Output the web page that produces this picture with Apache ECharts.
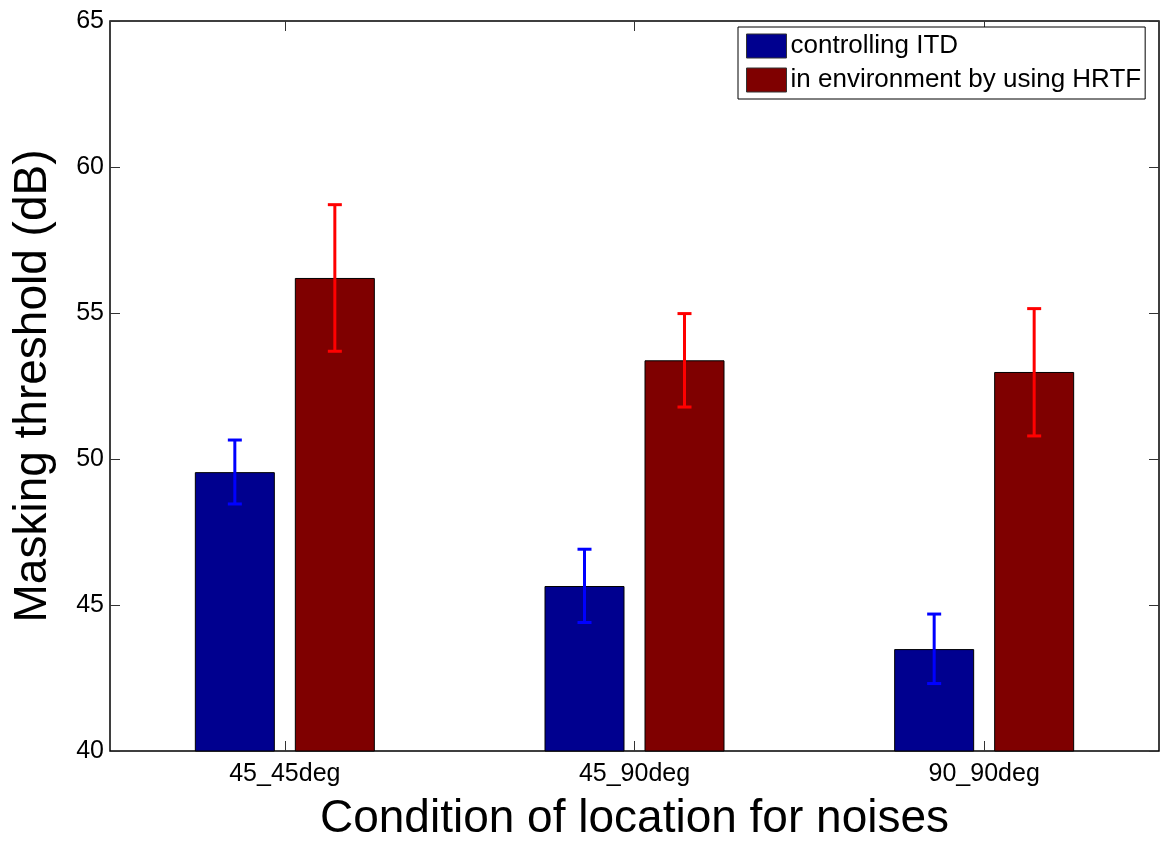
<!DOCTYPE html>
<html>
<head>
<meta charset="utf-8">
<script src="https://cdn.jsdelivr.net/npm/echarts@6/dist/echarts.min.js"></script>
<style>
html,body{margin:0;padding:0;background:#fff;}
#chart{width:1160px;height:844px;}
</style>
</head>
<body>
<div id="chart"></div>
<script>
const categories = ['45_45deg', '45_90deg', '90_90deg'];
const seriesNames = ['controlling ITD', 'in environment by using HRTF'];
const itdMean = [49.55, 45.65, 43.49];
const itdLow = [48.46, 44.40, 42.31];
const itdHigh = [50.65, 46.91, 44.69];
const hrtfMean = [56.20, 53.38, 52.98];
const hrtfLow = [53.69, 51.78, 50.79];
const hrtfHigh = [58.71, 54.98, 55.15];
const yTicks = { min: 40, max: 65, interval: 5 };

const BAR_W = 80;
const BAR_GAP = 0.25;
const FONT = '"Liberation Sans", Arial, Helvetica, sans-serif';

function errData(lo, hi) {
  return categories.map((c, i) => [i, lo[i], hi[i]]);
}
function errRender(sign, color) {
  return function (params, api) {
    const i = api.value(0);
    const lo = api.coord([i, api.value(1)]);
    const hi = api.coord([i, api.value(2)]);
    const off = sign * (BAR_W + BAR_W * BAR_GAP) / 2;
    const x = lo[0] + off;
    const h = 7;
    const st = { stroke: color, lineWidth: 3 };
    return {
      type: 'group',
      children: [
        { type: 'line', shape: { x1: x, y1: lo[1], x2: x, y2: hi[1] }, style: st },
        { type: 'line', shape: { x1: x - h, y1: lo[1], x2: x + h, y2: lo[1] }, style: st },
        { type: 'line', shape: { x1: x - h, y1: hi[1], x2: x + h, y2: hi[1] }, style: st }
      ]
    };
  };
}

const chart = echarts.init(document.getElementById('chart'));
const tickStyle = { show: true, inside: true, length: 10, lineStyle: { color: '#333', width: 1 } };
chart.setOption({
  animation: false,
  backgroundColor: '#fff',
  textStyle: { fontFamily: FONT },
  grid: { left: 110, right: 1, top: 21, bottom: 93, show: true, borderColor: '#000', borderWidth: 1.5, backgroundColor: 'transparent', outerBoundsMode: 'none', containLabel: false },
  legend: {
    data: seriesNames,
    orient: 'vertical',
    icon: 'rect',
    left: 738, top: 27,
    itemWidth: 40, itemHeight: 24, itemGap: 8,
    padding: [6, 4, 6, 8],
    borderColor: '#000', borderWidth: 1,
    backgroundColor: '#fff',
    textStyle: { fontSize: 26, color: '#000', fontFamily: FONT, padding: [0, 0, 0, -1] },
    itemStyle: { borderColor: '#333', borderWidth: 1 }
  },
  xAxis: [{
    type: 'category', data: categories, position: 'bottom',
    axisLine: { show: false },
    axisTick: Object.assign({ alignWithLabel: true }, tickStyle),
    axisLabel: { fontSize: 25, color: '#000', margin: 11, fontFamily: FONT },
    name: 'Condition of location for noises', nameLocation: 'middle', nameGap: 45,
    nameTextStyle: { fontSize: 46, color: '#000', fontFamily: FONT }
  }, {
    type: 'category', data: categories, position: 'top',
    axisLine: { show: false },
    axisTick: Object.assign({ alignWithLabel: true }, tickStyle),
    axisLabel: { show: false }
  }],
  yAxis: [{
    type: 'value', min: yTicks.min, max: yTicks.max, interval: yTicks.interval,
    axisLine: { show: false },
    axisTick: tickStyle,
    splitLine: { show: false },
    axisLabel: { fontSize: 25, color: '#000', margin: 6, fontFamily: FONT },
    name: 'Masking threshold (dB)', nameLocation: 'middle', nameGap: 54,
    nameTextStyle: { fontSize: 46, color: '#000', fontFamily: FONT }
  }, {
    type: 'value', position: 'right', min: yTicks.min, max: yTicks.max, interval: yTicks.interval,
    axisLine: { show: false },
    axisTick: tickStyle,
    splitLine: { show: false },
    axisLabel: { show: false }
  }],
  series: [
    { name: seriesNames[0], type: 'bar', data: itdMean, barWidth: BAR_W, barGap: (BAR_GAP * 100) + '%',
      itemStyle: { color: '#00008F', borderColor: '#000', borderWidth: 1 } },
    { name: seriesNames[1], type: 'bar', data: hrtfMean, barWidth: BAR_W, barGap: (BAR_GAP * 100) + '%',
      itemStyle: { color: '#7F0000', borderColor: '#000', borderWidth: 1 } },
    { type: 'custom', data: errData(itdLow, itdHigh), renderItem: errRender(-1, '#0000FF'), z: 5, encode: { x: 0, y: [1, 2] } },
    { type: 'custom', data: errData(hrtfLow, hrtfHigh), renderItem: errRender(1, '#FF0000'), z: 5, encode: { x: 0, y: [1, 2] } }
  ]
});
</script>
</body>
</html>
